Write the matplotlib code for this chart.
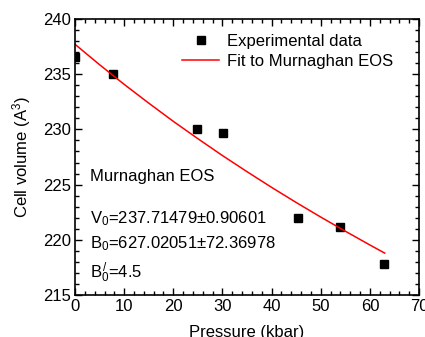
import matplotlib
matplotlib.use("Agg")
import matplotlib.pyplot as plt
from matplotlib.ticker import MultipleLocator

plt.rcParams["font.family"] = "Liberation Sans"
plt.rcParams["mathtext.fontset"] = "custom"
plt.rcParams["mathtext.rm"] = "Liberation Sans"
plt.rcParams["mathtext.it"] = "Liberation Sans"

# experimental points
pressure = [0.0, 7.7, 24.9, 30.2, 45.3, 53.9, 62.8]
volume = [236.6, 235.0, 230.0, 229.7, 222.0, 221.2, 217.8]

# fitted Murnaghan curve
fit_p = [0, 5, 10, 15, 20, 25, 30, 35, 40, 45, 50, 55, 60, 63]
fit_v = [237.71, 235.86, 234.08, 232.38, 230.73, 229.16, 227.63,
         226.17, 224.75, 223.38, 222.06, 220.78, 219.53, 218.80]

fs = 12

fig = plt.figure(figsize=(4.25, 3.37), dpi=100)
ax = fig.add_axes([0.1765, 0.1246, 0.8095, 0.819])

ax.plot(pressure, volume, "s", color="black", markersize=6, label="Experimental data")
ax.plot(fit_p, fit_v, color="red", lw=1.1, label="Fit to Murnaghan EOS")

ax.set_xlim(0, 70)
ax.set_ylim(215, 240)
ax.xaxis.set_major_locator(MultipleLocator(10))
ax.xaxis.set_minor_locator(MultipleLocator(2))
ax.yaxis.set_major_locator(MultipleLocator(5))
ax.yaxis.set_minor_locator(MultipleLocator(1))
ax.tick_params(which="both", direction="in", top=True, right=True, labelsize=fs, width=1)
ax.tick_params(which="major", length=5, pad=3)
ax.tick_params(which="minor", length=3)
for s in ax.spines.values():
    s.set_linewidth(1.2)

ax.set_xlabel("Pressure (kbar)", fontsize=fs, labelpad=8)
ax.set_ylabel("Cell volume (A$^3$)", fontsize=fs, labelpad=7)

ax.legend(loc="upper right", bbox_to_anchor=(0.945, 0.97), frameon=False, fontsize=fs,
          handlelength=2.2, borderaxespad=0.0, labelspacing=0.3, handletextpad=0.5)

ax.text(3, 225.35, "Murnaghan EOS", fontsize=fs, va="baseline")
ax.text(3, 221.5, "V$_0$=237.71479±0.90601", fontsize=fs, va="baseline")
ax.text(3, 219.23, "B$_0$=627.02051±72.36978", fontsize=fs, va="baseline")
ax.text(3, 216.57, "B$_0^{\\,/}$=4.5", fontsize=fs, va="baseline")

plt.savefig("out.png", dpi=100)
plt.close()
